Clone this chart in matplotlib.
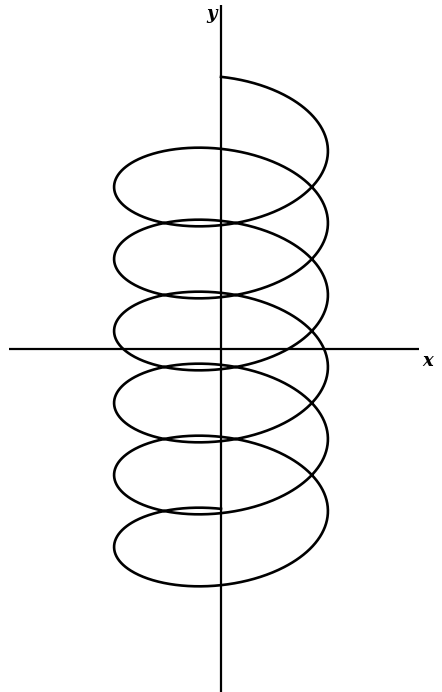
import numpy as np
import matplotlib
matplotlib.use("Agg")
import matplotlib.pyplot as plt

# Curve parameters (units: 1 unit ~ 36 px)
radius = 2.97        # half width of the loops
drop_per_turn = 2.0  # vertical drop for one full turn
tilt = 1.56          # vertical offset from the viewing angle
top_offset = 6.0     # centre height at t = 0
turns = 6

# Axis extents
x_axis = [-5.89, 5.5]
y_axis = [9.55, -9.6]

t = np.linspace(0, 2 * np.pi * turns, 3000)
x = radius * np.sin(t)
y = top_offset - drop_per_turn * t / (2 * np.pi) + tilt * np.cos(t)

fig = plt.figure(figsize=(4.42, 6.92), dpi=100)
ax = fig.add_axes([0, 0, 1, 1])

ax.plot(x_axis, [0, 0], color="black", lw=1.6, solid_capstyle="butt")
ax.plot([0, 0], y_axis, color="black", lw=1.6, solid_capstyle="butt")
ax.plot(x, y, color="black", lw=1.9)

ax.text(-0.12, 9.3, "y", fontsize=13, fontstyle="italic", fontweight="bold",
        family="DejaVu Serif", ha="right", va="center")
ax.text(5.75, -0.33, "x", fontsize=13, fontstyle="italic", fontweight="bold",
        family="DejaVu Serif", ha="center", va="center")

ax.set_xlim(-221 / 36, 221 / 36)
ax.set_ylim(-343 / 36, 349 / 36)
ax.axis("off")

fig.savefig("out.png", dpi=100, facecolor="white")
